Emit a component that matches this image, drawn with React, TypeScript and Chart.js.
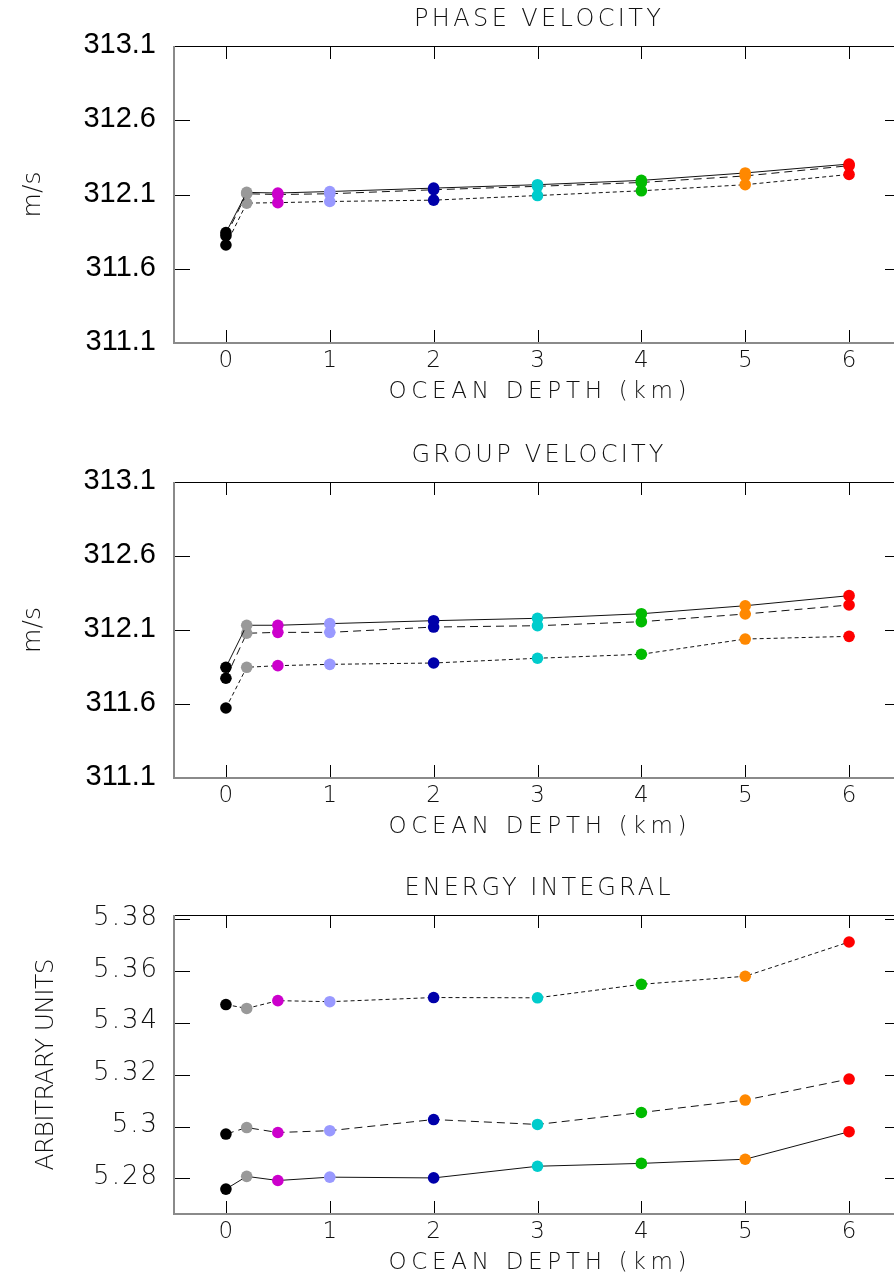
import React, { useEffect, useRef } from 'react';
import { Chart, registerables } from 'chart.js';

Chart.register(...registerables);

// ---------- data ----------
const depths = [0, 0.2, 0.5, 1, 2, 3, 4, 5, 6];
const pointColors = ['#000000', '#999999', '#cc00cc', '#9999ff', '#0000aa', '#00cccc', '#00bb00', '#ff8800', '#ff0000'];

const xTicks = [0, 1, 2, 3, 4, 5, 6];
const xTickLabels = ['0', '1', '2', '3', '4', '5', '6'];

const velocityTicks = [311.1, 311.6, 312.1, 312.6, 313.1];
const velocityTickLabels = ['311.1', '311.6', '312.1', '312.6', '313.1'];

const energyTicks = [5.28, 5.3, 5.32, 5.34, 5.36, 5.38];
const energyTickLabels = ['5.28', '5.3', '5.32', '5.34', '5.36', '5.38'];

const phaseSolid = [311.843, 312.114, 312.11, 312.12, 312.143, 312.166, 312.195, 312.245, 312.305];
const phaseLongDash = [311.823, 312.105, 312.1, 312.105, 312.132, 312.155, 312.181, 312.225, 312.294];
const phaseShortDash = [311.76, 312.042, 312.045, 312.053, 312.062, 312.093, 312.125, 312.166, 312.235];

const groupSolid = [311.848, 312.132, 312.132, 312.143, 312.163, 312.179, 312.21, 312.264, 312.332];
const groupLongDash = [311.774, 312.078, 312.084, 312.084, 312.12, 312.129, 312.156, 312.208, 312.269];
const groupShortDash = [311.573, 311.848, 311.859, 311.868, 311.877, 311.909, 311.936, 312.039, 312.057];

const energyShortDash = [5.347, 5.3455, 5.3485, 5.3481, 5.3497, 5.3496, 5.3548, 5.3579, 5.3711];
const energyLongDash = [5.2971, 5.2996, 5.2977, 5.2984, 5.3027, 5.3008, 5.3054, 5.3102, 5.3183];
const energySolid = [5.2759, 5.2808, 5.2792, 5.2805, 5.2802, 5.2847, 5.2858, 5.2874, 5.298];

// ---------- styles ----------
const LONG_DASH = [8, 5];
const SHORT_DASH = [4, 3];
const THIN_FONT = '"DejaVu Sans", sans-serif';
const CANVAS_W = 910;

type Series = { values: number[]; dash: number[] };

type PanelSpec = {
  top: number;
  height: number;
  padding: { left: number; right: number; top: number; bottom: number };
  title: string;
  titleWidth: number;
  yTitle: string;
  yTitleWidth: number;
  yTitleX: number;
  yMin: number;
  yMax: number;
  yTicks: number[];
  yTickLabels: string[];
  yLabelStyle: 'sans' | 'thin';
  series: Series[];
};

const panels: PanelSpec[] = [
  {
    top: 0,
    height: 434,
    padding: { left: 174, right: 9, top: 46, bottom: 91 },
    title: 'PHASE VELOCITY',
    titleWidth: 247,
    yTitle: 'm/s',
    yTitleWidth: 46,
    yTitleX: 40,
    yMin: 311.1,
    yMax: 313.1,
    yTicks: velocityTicks,
    yTickLabels: velocityTickLabels,
    yLabelStyle: 'sans',
    series: [
      { values: phaseSolid, dash: [] },
      { values: phaseLongDash, dash: LONG_DASH },
      { values: phaseShortDash, dash: SHORT_DASH },
    ],
  },
  {
    top: 434,
    height: 434,
    padding: { left: 174, right: 9, top: 48, bottom: 90 },
    title: 'GROUP VELOCITY',
    titleWidth: 252,
    yTitle: 'm/s',
    yTitleWidth: 46,
    yTitleX: 40,
    yMin: 311.1,
    yMax: 313.1,
    yTicks: velocityTicks,
    yTickLabels: velocityTickLabels,
    yLabelStyle: 'sans',
    series: [
      { values: groupSolid, dash: [] },
      { values: groupLongDash, dash: LONG_DASH },
      { values: groupShortDash, dash: SHORT_DASH },
    ],
  },
  {
    top: 868,
    height: 411,
    padding: { left: 174, right: 9, top: 47, bottom: 65 },
    title: 'ENERGY INTEGRAL',
    titleWidth: 266,
    yTitle: 'ARBITRARY UNITS',
    yTitleWidth: 212,
    yTitleX: 53,
    yMin: 5.2663,
    yMax: 5.3815,
    yTicks: energyTicks,
    yTickLabels: energyTickLabels,
    yLabelStyle: 'thin',
    series: [
      { values: energySolid, dash: [] },
      { values: energyLongDash, dash: LONG_DASH },
      { values: energyShortDash, dash: SHORT_DASH },
    ],
  },
];

function drawSpaced(
  ctx: CanvasRenderingContext2D,
  text: string,
  x: number,
  y: number,
  font: string,
  align: 'center' | 'right' | 'left',
  opts: { width?: number; spacing?: number }
) {
  ctx.save();
  ctx.font = font;
  (ctx as any).letterSpacing = '0px';
  const w0 = ctx.measureText(text).width;
  const n = text.length;
  const sp = opts.width != null ? (opts.width - w0) / Math.max(1, n - 1) : opts.spacing || 0;
  (ctx as any).letterSpacing = sp + 'px';
  const total = w0 + sp * (n - 1);
  const start = align === 'center' ? x - total / 2 : align === 'right' ? x - total : x;
  ctx.textAlign = 'left';
  ctx.fillText(text, start, y);
  ctx.restore();
}

function makePlugin(spec: PanelSpec) {
  return {
    id: 'frameAndText',
    beforeDatasetsDraw(chart: any) {
      const { ctx, chartArea, scales } = chart;
      const { left, right, top, bottom } = chartArea;
      const xs = scales.x;
      const ys = scales.y;
      ctx.save();
      ctx.strokeStyle = '#000';
      ctx.lineWidth = 1;
      ctx.beginPath();
      for (const t of xTicks) {
        const px = Math.round(xs.getPixelForValue(t)) + 0.5;
        ctx.moveTo(px, top);
        ctx.lineTo(px, top + 13);
        ctx.moveTo(px, bottom);
        ctx.lineTo(px, bottom - 13);
      }
      for (const t of spec.yTicks) {
        const py = Math.round(ys.getPixelForValue(t)) + 0.5;
        ctx.moveTo(left, py);
        ctx.lineTo(left + 16, py);
        ctx.moveTo(right - 16, py);
        ctx.lineTo(right, py);
      }
      ctx.stroke();
      ctx.beginPath();
      ctx.moveTo(left, top + 0.5);
      ctx.lineTo(right, top + 0.5);
      ctx.moveTo(right - 0.5, top);
      ctx.lineTo(right - 0.5, bottom);
      ctx.stroke();
      ctx.strokeStyle = '#8a8a8a';
      ctx.lineWidth = 2;
      ctx.beginPath();
      ctx.moveTo(left, top);
      ctx.lineTo(left, bottom + 1);
      ctx.moveTo(left, bottom);
      ctx.lineTo(right, bottom);
      ctx.stroke();
      ctx.restore();
    },
    afterDraw(chart: any) {
      const { ctx, chartArea, scales } = chart;
      const { left, right, top, bottom } = chartArea;
      const xs = scales.x;
      const ys = scales.y;
      const cx = (left + right) / 2;
      ctx.save();
      ctx.fillStyle = '#111';
      ctx.textBaseline = 'middle';
      drawSpaced(ctx, spec.title, cx, top - 26, `200 24px ${THIN_FONT}`, 'center', { width: spec.titleWidth });
      xTicks.forEach((t, i) => {
        drawSpaced(ctx, xTickLabels[i], xs.getPixelForValue(t), bottom + 18, `200 23px ${THIN_FONT}`, 'center', { spacing: 0 });
      });
      drawSpaced(ctx, 'OCEAN DEPTH (km)', cx, bottom + 49, `200 23px ${THIN_FONT}`, 'center', { width: 298 });
      spec.yTicks.forEach((t, i) => {
        const py = ys.getPixelForValue(t);
        if (spec.yLabelStyle === 'sans') {
          ctx.save();
          ctx.font = '29px "Liberation Sans", Arial, sans-serif';
          ctx.textAlign = 'right';
          ctx.fillStyle = '#000';
          ctx.fillText(spec.yTickLabels[i], 156, py - 1);
          ctx.restore();
        } else {
          drawSpaced(ctx, spec.yTickLabels[i], 157, py - 1, `200 26px ${THIN_FONT}`, 'right', { spacing: 2 });
        }
      });
      ctx.save();
      ctx.translate(spec.yTitleX, (top + bottom) / 2);
      ctx.rotate(-Math.PI / 2);
      ctx.textBaseline = 'alphabetic';
      drawSpaced(ctx, spec.yTitle, 0, 0, `200 25px ${THIN_FONT}`, 'center', { width: spec.yTitleWidth });
      ctx.restore();
      ctx.restore();
    },
  };
}

function Panel({ spec }: { spec: PanelSpec }) {
  const ref = useRef<HTMLCanvasElement | null>(null);
  useEffect(() => {
    if (!ref.current) return;
    const chart = new Chart(ref.current, {
      type: 'line',
      data: {
        datasets: spec.series.map((s) => ({
          data: depths.map((d, i) => ({ x: d, y: s.values[i] })),
          borderColor: '#111',
          borderWidth: 1,
          borderDash: s.dash,
          pointRadius: 5.8,
          pointHoverRadius: 5.8,
          pointBorderWidth: 0,
          pointBackgroundColor: pointColors,
          pointBorderColor: pointColors,
          tension: 0,
          fill: false,
        })),
      },
      options: {
        animation: false,
        responsive: false,
        devicePixelRatio: 1,
        events: [],
        layout: { padding: spec.padding },
        scales: {
          x: { type: 'linear', min: -0.5, max: 6.5, display: false },
          y: { type: 'linear', min: spec.yMin, max: spec.yMax, display: false },
        },
        plugins: {
          legend: { display: false },
          tooltip: { enabled: false },
          title: { display: false },
        },
      },
      plugins: [makePlugin(spec)],
    } as any);
    return () => chart.destroy();
  }, [spec]);
  return (
    <canvas
      ref={ref}
      width={CANVAS_W}
      height={spec.height}
      style={{ position: 'absolute', left: 0, top: spec.top, width: CANVAS_W, height: spec.height }}
    />
  );
}

export default function App() {
  return (
    <div
      style={{
        position: 'absolute',
        left: 0,
        top: 0,
        width: 894,
        height: 1279,
        overflow: 'hidden',
        background: '#fff',
      }}
    >
      {panels.map((p, i) => (
        <Panel key={i} spec={p} />
      ))}
    </div>
  );
}
